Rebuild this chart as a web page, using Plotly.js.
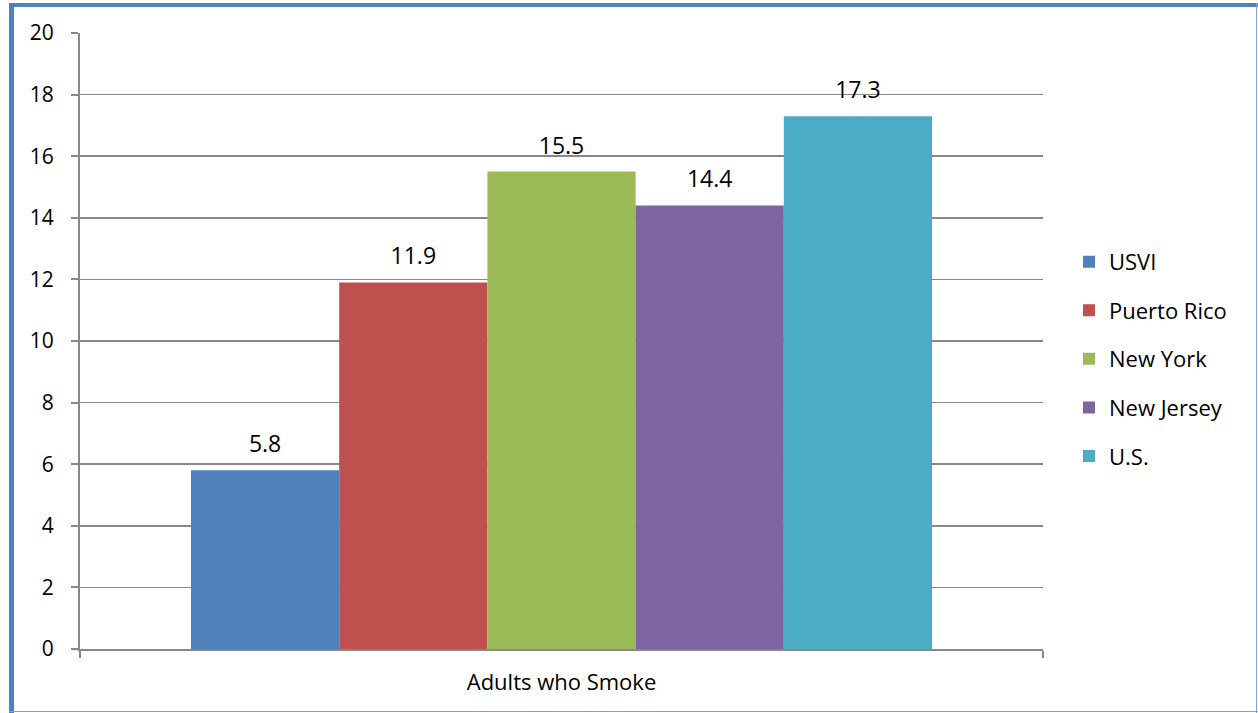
<!DOCTYPE html>
<html><head><meta charset="utf-8">
<script src="https://cdn.plot.ly/plotly-3.0.1.min.js"></script>
<style>
html,body{margin:0;padding:0;background:#fff;}
#wrap{position:relative;width:1258px;height:713px;overflow:hidden;}
#chart{position:absolute;left:0;top:0;width:1258px;height:713px;}
.fr{position:absolute;background:#4F81BD;}
</style></head><body>
<div id="wrap">
<div id="chart"></div>
<div class="fr" style="left:9px;top:3px;width:1249px;height:4px;"></div>
<div class="fr" style="left:9px;top:3px;width:5px;height:710px;"></div>
<div class="fr" style="left:1256px;top:3px;width:1px;height:710px;background:#7FA3D3;"></div>
<div class="fr" style="left:9px;top:711px;width:1249px;height:1px;background:#7FA3D3;"></div>
</div>
<script>
const category = ["Adults who Smoke"];
const seriesNames = ["USVI", "Puerto Rico", "New York", "New Jersey", "U.S."];
const seriesValues = [5.8, 11.9, 15.5, 14.4, 17.3];
const seriesColors = ["#4F81BD", "#C0504D", "#9BBB59", "#8064A2", "#4BACC6"];
const yTicks = [0, 2, 4, 6, 8, 10, 12, 14, 16, 18, 20];

const font = "Open Sans, Liberation Sans, sans-serif";
const bars = seriesNames.map((n, i) => ({
  type: "bar",
  name: n,
  x: category,
  y: [seriesValues[i]],
  marker: {color: seriesColors[i], line: {width: 0}},
  legendgroup: "g" + i,
  hoverinfo: "none"
}));
const labels = seriesNames.map((n, i) => ({
  type: "scatter",
  mode: "markers+text",
  name: n + " label",
  x: category,
  y: [seriesValues[i]],
  text: [seriesValues[i].toFixed(1)],
  textposition: "top center",
  textfont: {family: font, size: 23, color: "#000"},
  marker: {size: 18, opacity: 0},
  cliponaxis: false,
  showlegend: false,
  hoverinfo: "none"
}));

const layout = {
  width: 1258, height: 713,
  margin: {l: 80, r: 215, t: 33, b: 64},
  paper_bgcolor: "rgba(0,0,0,0)",
  plot_bgcolor: "rgba(0,0,0,0)",
  font: {family: font, color: "#000"},
  barmode: "group",
  bargap: 0.2305,
  bargroupgap: 0,
  scattermode: "group",
  scattergap: 0.2305,
  showlegend: true,
  legend: {
    x: 1.027, xanchor: "left", y: 0.471, yanchor: "middle",
    font: {family: font, size: 22, color: "#000"},
    traceorder: "grouped", tracegroupgap: 17,
    itemwidth: 30
  },
  xaxis: {
    type: "category",
    range: [-0.5, 0.5],
    showline: true, linecolor: "#888", linewidth: 2,
    ticks: "outside", tickson: "boundaries", ticklen: 7, tickcolor: "#888", tickwidth: 2,
    tickfont: {family: font, size: 22, color: "#000"},
    ticklabelstandoff: 13,
    showgrid: false, fixedrange: true
  },
  yaxis: {
    range: [0, 20],
    tickvals: yTicks,
    ticktext: yTicks.map(String),
    showline: true, linecolor: "#888", linewidth: 2,
    ticks: "outside", ticklen: 7, tickcolor: "#888", tickwidth: 2,
    showgrid: true, gridcolor: "#888", gridwidth: 1.5,
    zeroline: false,
    tickfont: {family: font, size: 21, color: "#000"},
    ticklabelstandoff: 13
  }
};

Plotly.newPlot("chart", bars.concat(labels), layout, {displayModeBar: false, staticPlot: true});
</script>
</body></html>
